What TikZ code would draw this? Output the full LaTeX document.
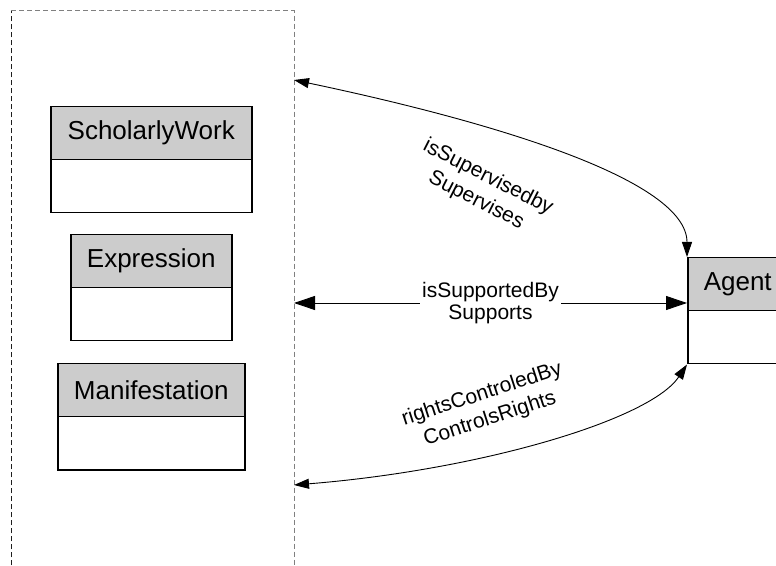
\documentclass[tikz,border=0pt]{standalone}
\usepackage{fontspec}
\setmainfont{Liberation Sans}
\usetikzlibrary{arrows.meta}
\definecolor{hdr}{RGB}{204,204,204}
\definecolor{frm}{RGB}{128,128,128}
\definecolor{frmdark}{RGB}{30,30,30}
\begin{document}
\begin{tikzpicture}[x=1pt,y=1pt,
  hdrbox/.style={draw, line width=1.5pt, fill=hdr, minimum height=53pt, inner sep=0pt,
    font=\fontsize{26}{30}\selectfont, anchor=north west},
  bodybox/.style={draw, line width=1.5pt, fill=white, minimum height=53pt, inner sep=0pt, anchor=north west},
  conn/.style={line width=0.9pt, {Triangle[length=15pt,width=10pt]}-{Triangle[length=15pt,width=10pt]}},
  connbig/.style={line width=0.9pt, {Triangle[length=21pt,width=14pt]}-{Triangle[length=21pt,width=14pt]}},
  lbl/.style={font=\fontsize{21}{22}\selectfont, align=center, inner sep=2.5pt},
  rlbl/.style={font=\fontsize{21}{26}\selectfont, align=center, inner sep=2.5pt},
  frameline/.style={line width=1pt, dash pattern=on 5pt off 3pt}]
\useasboundingbox (0,0) rectangle (776,565);

% container frame
\node[minimum width=283pt, minimum height=554pt, inner sep=0pt, anchor=north west] (frame) at (11,554) {};
\draw[frameline, frmdark] (frame.south west) -- (frame.north west);
\draw[frameline, frm] (frame.north west) -- (frame.north east) -- (frame.south east);

% classes
\node[bodybox, minimum width=201pt] (swb) at (50,406) {};
\node[hdrbox, minimum width=201pt] (sw) at (50,459) {ScholarlyWork};

\node[bodybox, minimum width=161pt] (exb) at (70,278) {};
\node[hdrbox, minimum width=161pt] (ex) at (70,331) {Expression};

\node[bodybox, minimum width=187pt] (mab) at (57,149) {};
\node[hdrbox, minimum width=187pt] (ma) at (57,202) {Manifestation};

\node[bodybox, minimum width=100pt] (agb) at (687,255) {};
\node[hdrbox, minimum width=100pt, minimum height=53pt] (ag) at (687,308) {Agent};

% connector ends on the frame
\coordinate (e1) at (294,485);
\coordinate (e2) at (294,262);
\coordinate (e3) at (294,80);

% connectors
\draw[conn] (e1) .. controls (494,443) and (687,385) .. (ag.north west);
\draw[connbig] (e2) -- node[lbl, fill=white] {isSupportedBy\\Supports} (e2 -| ag.west);
\draw[conn] (e3) .. controls (480,95) and (650,145) .. (agb.south west);

% labels
\node[rlbl, rotate=-27] (l1) at (482,376) {isSupervisedby\\Supervises};
\node[rlbl, rotate=18] (l3) at (486,158) {rightsControledBy\\ControlsRights};
\end{tikzpicture}
\end{document}
